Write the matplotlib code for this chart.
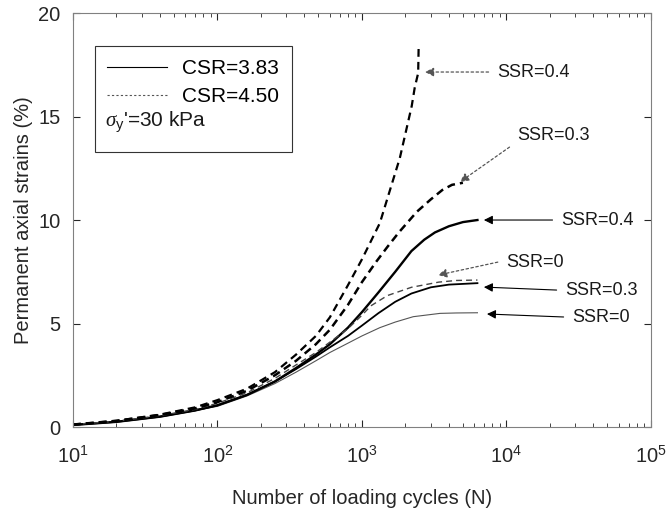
import numpy as np
from matplotlib import pyplot as plt
from matplotlib.lines import Line2D
from matplotlib.patches import Rectangle

plt.rcParams['font.family'] = ['Liberation Sans', 'DejaVu Sans']
plt.rcParams['mathtext.fontset'] = 'custom'
plt.rcParams['mathtext.it'] = 'Liberation Serif:italic'
plt.rcParams['mathtext.rm'] = 'Liberation Sans'

# CSR = 3.83 (solid lines)
n_s0 = [10, 20, 40, 70, 100, 160, 250, 350, 480, 600, 800, 1000, 1330, 1700, 2265, 3470, 4500, 6300]
e_s0 = [0.1, 0.25, 0.5, 0.8, 1.0, 1.5, 2.1, 2.65, 3.2, 3.6, 4.05, 4.4, 4.8, 5.07, 5.33, 5.49, 5.51, 5.52]
n_s3 = [10, 20, 40, 70, 100, 160, 250, 350, 480, 600, 800, 1000, 1300, 1700, 2200, 3000, 4000, 6300]
e_s3 = [0.1, 0.25, 0.5, 0.8, 1.05, 1.55, 2.2, 2.8, 3.4, 3.85, 4.4, 4.9, 5.5, 6.05, 6.45, 6.75, 6.88, 6.95]
n_s4 = [10, 20, 40, 70, 100, 160, 250, 350, 480, 600, 800, 1000, 1300, 1700, 2200, 2700, 3200, 4000, 5000, 6300]
e_s4 = [0.1, 0.25, 0.5, 0.8, 1.05, 1.55, 2.2, 2.85, 3.5, 4.0, 4.8, 5.55, 6.5, 7.5, 8.5, 9.05, 9.4, 9.7, 9.9, 10.0]

# CSR = 4.50 (dashed lines)
n_d0 = [10, 20, 40, 70, 100, 160, 250, 350, 480, 600, 800, 1000, 1150, 1500, 2200, 3400, 4500, 6300]
e_d0 = [0.12, 0.28, 0.55, 0.85, 1.15, 1.65, 2.35, 3.0, 3.6, 4.1, 4.75, 5.4, 5.85, 6.35, 6.75, 7.0, 7.08, 7.1]
n_d3 = [10, 20, 40, 70, 100, 160, 250, 350, 480, 600, 800, 1000, 1260, 1500, 1800, 2400, 3000, 3600, 4200, 5000]
e_d3 = [0.12, 0.3, 0.58, 0.9, 1.2, 1.75, 2.5, 3.2, 4.0, 4.7, 5.9, 7.0, 8.0, 8.7, 9.4, 10.4, 11.0, 11.45, 11.7, 11.8]
n_d4 = [10, 20, 40, 70, 100, 160, 250, 350, 480, 600, 800, 1000, 1330, 1830, 2210, 2320, 2450, 2470]
e_d4 = [0.12, 0.3, 0.6, 0.95, 1.3, 1.85, 2.65, 3.5, 4.4, 5.3, 6.85, 8.1, 9.85, 13.0, 15.5, 16.4, 17.1, 18.45]

# annotations: label, arrow head (N, strain), text left edge (N, strain), dotted arrow?
ann_labels = ['SSR=0.4', 'SSR=0.3', 'SSR=0.4', 'SSR=0', 'SSR=0.3', 'SSR=0']
ann_head = [(2730, 17.15), (4770, 11.84), (6980, 10.0), (3360, 7.34), (6980, 6.76), (7330, 5.46)]
ann_text = [(8590, 17.15), (11800, 14.1), (23800, 10.0), (9930, 7.97), (25400, 6.6), (28400, 5.3)]
ann_dotted = [True, True, False, True, False, False]
ann_relpos = [(0, 0.5), (0, 0.1), (0, 0.5), (0, 0.6), (0, 0.5), (0, 0.5)]

fig = plt.figure(figsize=(6.69, 5.13), dpi=100)
ax = fig.add_axes([0.109, 0.1676, 0.864, 0.807])

ax.plot(n_s0, e_s0, color='#555555', lw=0.8)
ax.plot(n_s3, e_s3, color='black', lw=1.3)
ax.plot(n_s4, e_s4, color='black', lw=1.7)
ax.plot(n_d0, e_d0, color='#444444', lw=1.0, linestyle=(0, (4.3, 2.9)))
ax.plot(n_d3, e_d3, color='black', lw=1.8, linestyle=(0, (3.2, 2.0)))
ax.plot(n_d4, e_d4, color='black', lw=1.6, linestyle=(0, (3.5, 2.3)))

for lab, head, txt, dot, rp in zip(ann_labels, ann_head, ann_text, ann_dotted, ann_relpos):
    if dot:
        props = dict(arrowstyle='-|>', color='#555555', lw=0.9, linestyle=(0, (2, 2)),
                     mutation_scale=13, shrinkA=4, shrinkB=0, relpos=rp)
    else:
        props = dict(arrowstyle='-|>', color='black', lw=0.8,
                     mutation_scale=13, shrinkA=4, shrinkB=0, relpos=rp)
    ax.annotate(lab, xy=head, xytext=txt, ha='left', va='center',
                fontsize=13, color='#1a1a1a', arrowprops=props)

ax.set_xscale('log')
ax.set_xlim(10, 1e5)
ax.set_ylim(0, 20)
ax.set_yticks([0, 5, 10, 15, 20])
ax.tick_params(which='both', direction='in', top=True, right=True,
               labelsize=14.5, colors='#262626')
ax.tick_params(axis='y', which='both', pad=9)
ax.tick_params(axis='x', which='both', pad=13)
ax.tick_params(which='major', length=5)
ax.tick_params(which='minor', length=3)
for sp in ax.spines.values():
    sp.set_color('#808080')
    sp.set_linewidth(0.8)
ax.set_xlabel('Number of loading cycles (N)', fontsize=14.5, color='#262626', labelpad=16)
ax.set_ylabel('Permanent axial strains (%)', fontsize=14.5, color='#262626', labelpad=4)

# legend box
ax.add_patch(Rectangle((0.038, 0.664), 0.341, 0.256, transform=ax.transAxes,
                       fill=False, edgecolor='#333333', lw=0.8, zorder=5))
handles = [Line2D([], [], color='black', lw=0.8),
           Line2D([], [], color='#555555', lw=0.8, linestyle=(0, (2, 2)))]
leg = ax.legend(handles, ['CSR=3.83', 'CSR=4.50'], loc='upper left',
                bbox_to_anchor=(0.0588, 0.889), frameon=False, fontsize=15,
                handlelength=2.9, handletextpad=0.72, labelspacing=0.45,
                borderaxespad=0, borderpad=0)
ax.text(0.055, 0.735, r"$\mathit{\sigma}_{\mathrm{y}}$'=30 kPa", transform=ax.transAxes,
        fontsize=15, va='center', ha='left', color='#1a1a1a')

fig.savefig('out.png', dpi=100)
